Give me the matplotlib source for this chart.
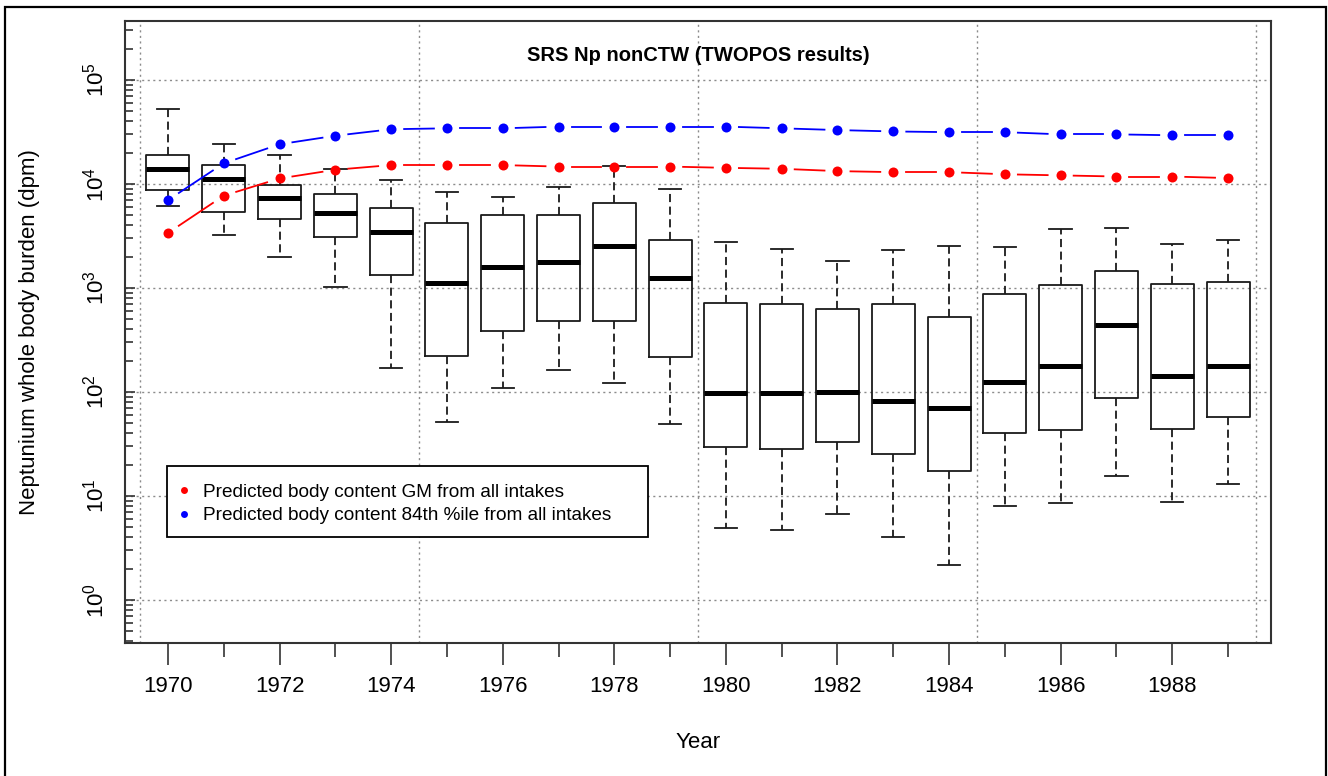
import numpy as np
import matplotlib
matplotlib.use("Agg")
import matplotlib.pyplot as plt
from matplotlib.lines import Line2D
from matplotlib.patches import Rectangle

plt.rcParams["font.family"] = ["Liberation Sans", "DejaVu Sans"]

# data
years = list(range(1970, 1990))
whis_lo = [6190, 3230, 1970, 1030, 169, 51.8, 110, 163, 121, 48.9,
           4.89, 4.71, 6.76, 4.01, 2.17, 8.01, 8.49, 15.7, 8.75, 13.0]
q1 = [8750, 5420, 4580, 3110, 1333, 223, 389, 485, 485, 215,
      29.8, 28.1, 33.0, 25.3, 17.3, 40.1, 43.1, 86.9, 44.1, 57.1]
med = [13900, 11100, 7280, 5230, 3430, 1110, 1580, 1790, 2550, 1260,
       97.2, 97.2, 99.3, 81.9, 69.7, 126, 179, 441, 142, 179]
q3 = [19100, 15200, 9780, 8010, 5920, 4190, 5030, 5030, 6560, 2900,
      713, 697, 632, 697, 523, 876, 1070, 1470, 1100, 1140]
whis_hi = [52300, 24100, 19100, 13900, 10900, 8430, 7450, 9420, 14900, 8950,
           2790, 2390, 1830, 2300, 2550, 2480, 3660, 3780, 2650, 2920]
gm = [3380, 7720, 11300, 13700, 15200, 15200, 15200, 14700, 14700, 14700,
      14300, 14000, 13300, 13000, 13000, 12400, 12100, 11800, 11800, 11400]
p84 = [7000, 15800, 24100, 29100, 33600, 34300, 34300, 35600, 35600, 35600,
       35600, 34300, 33000, 32000, 31500, 31500, 30000, 30000, 29400, 29400]

legend_labels = ["Predicted body content GM from all intakes",
                 "Predicted body content 84th %ile from all intakes"]

W, H = 1328, 776
AX_L, AX_R, AX_T, AX_B = 125, 1271, 21, 643
fig = plt.figure(figsize=(W / 100, H / 100), dpi=100)
ax = fig.add_axes([AX_L / W, (H - AX_B) / H, (AX_R - AX_L) / W, (AX_B - AX_T) / H])
ax.set_yscale("log")
ax.set_xlim(1969.23, 1989.77)
ax.set_ylim(10 ** -0.413, 10 ** 5.567)


def px_to_axes(x, y):
    return (x - AX_L) / (AX_R - AX_L), (AX_B - y) / (AX_B - AX_T)


# grid
grid_kw = dict(color="#8c8c8c", lw=1.0, ls=(0, (1.5, 2.5)), zorder=1)
for e in range(0, 6):
    ax.axhline(10 ** e, **grid_kw)
for xv in [1969.5, 1974.5, 1979.5, 1984.5, 1989.5]:
    ax.axvline(xv, **grid_kw)

# boxes
stats = []
for i in range(len(years)):
    stats.append(dict(whislo=whis_lo[i], q1=q1[i], med=med[i], q3=q3[i],
                      whishi=whis_hi[i], fliers=[]))
ax.bxp(stats, positions=years, widths=0.77, capwidths=0.4,
       showfliers=False, patch_artist=False, manage_ticks=False,
       boxprops=dict(color="#1a1a1a", lw=1.3),
       whiskerprops=dict(color="#1a1a1a", lw=1.3, ls=(0, (4.5, 2.5))),
       capprops=dict(color="#1a1a1a", lw=1.3),
       medianprops=dict(color="black", lw=3.6, solid_capstyle="butt"),
       zorder=2)


def gapped_line(x, y, color, gap=13):
    # R type="b": segments between points, with a gap around each point
    pts = ax.transData.transform(np.column_stack([x, y]))
    inv = ax.transData.inverted()
    for p0, p1 in zip(pts[:-1], pts[1:]):
        d = p1 - p0
        L = np.hypot(d[0], d[1])
        if L <= 2 * gap:
            continue
        u = d / L
        seg = inv.transform(np.array([p0 + u * gap, p1 - u * gap]))
        ax.plot(seg[:, 0], seg[:, 1], color=color, lw=1.3, zorder=3)
    ax.plot(x, y, ls="none", marker="o", ms=7.2, color=color,
            markeredgewidth=0, zorder=4)


gapped_line(years, gm, "#ff0000")
gapped_line(years, p84, "#0000ff")

# axes styling
for s in ax.spines.values():
    s.set_color("#333333")
    s.set_linewidth(1.5)

ax.set_xticks(list(range(1970, 1990, 2)))
ax.set_xticks(list(range(1971, 1990, 2)), minor=True)
ax.set_xticklabels([str(v) for v in range(1970, 1990, 2)])
ax.tick_params(axis="x", which="major", direction="out", length=16, width=1.2,
               pad=8, labelsize=16, color="#333333")
ax.tick_params(axis="x", which="minor", direction="out", length=10, width=1.2,
               color="#333333")

ax.set_yticks([10 ** e for e in range(0, 6)])
ax.set_yticklabels([r"$\mathregular{10^{%d}}$" % e for e in range(0, 6)],
                   rotation=90, va="center")
ax.yaxis.set_minor_locator(matplotlib.ticker.LogLocator(base=10, subs=np.arange(2, 10)))
ax.yaxis.set_minor_formatter(matplotlib.ticker.NullFormatter())
ax.tick_params(axis="y", which="major", direction="in", length=7, width=1.2,
               pad=12, labelsize=16, color="#333333")
ax.tick_params(axis="y", which="minor", direction="in", length=6, width=1.2,
               color="#333333")

ax.set_ylabel("Neptunium whole body burden (dpm)", fontsize=16)
ax.yaxis.set_label_coords((30 - AX_L) / (AX_R - AX_L), 0.5)
ax.set_xlabel("Year", fontsize=16)
ax.xaxis.set_label_coords(0.5, (AX_B - 742) / (AX_B - AX_T))
ax.xaxis.label.set_va("center")
ax.yaxis.label.set_va("center")

ax.text(0.5, (AX_B - 56) / (AX_B - AX_T), "SRS Np nonCTW (TWOPOS results)",
        transform=ax.transAxes, ha="center", va="center", fontsize=14.5,
        fontweight="bold")

# legend: entries without frame, frame drawn as R draws it
handles = [Line2D([], [], ls="none", marker="o", ms=5, color="#ff0000", markeredgewidth=0),
           Line2D([], [], ls="none", marker="o", ms=5, color="#0000ff", markeredgewidth=0)]
leg = ax.legend(handles, legend_labels, loc="center left",
                bbox_to_anchor=px_to_axes(178.3, 504),
                borderaxespad=0, borderpad=0, fontsize=13.7, frameon=False,
                handlelength=0.6, handletextpad=0.7, labelspacing=0.33)
leg.set_zorder(5)
x0, y0 = px_to_axes(167, 537)
x1, y1 = px_to_axes(648, 466)
ax.add_patch(Rectangle((x0, y0), x1 - x0, y1 - y0, transform=ax.transAxes,
                       facecolor="white", edgecolor="black", lw=1.3, zorder=4.5))

# outer frame
fig.add_artist(Rectangle((5 / W, -0.05), (1326 - 5) / W, (H - 7) / H + 0.05,
                         transform=fig.transFigure, fill=False,
                         edgecolor="black", lw=1.6))

fig.savefig("out.png", dpi=100)
